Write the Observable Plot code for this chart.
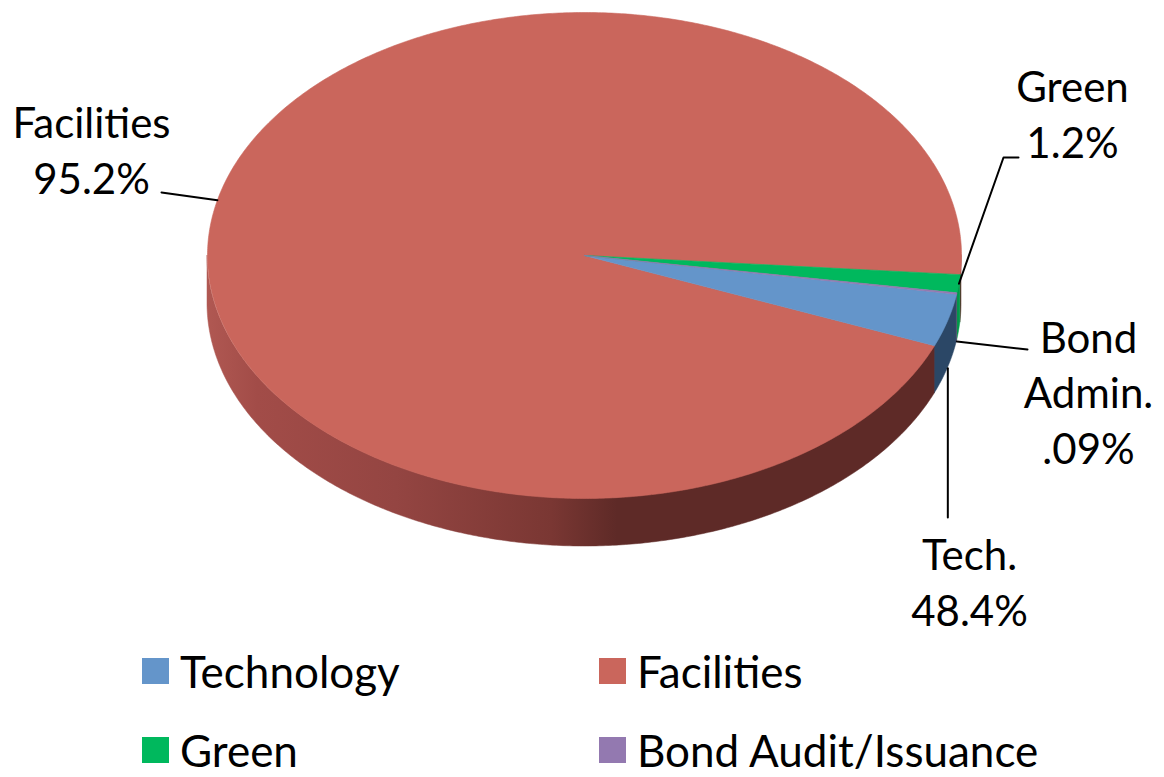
<!DOCTYPE html>
<html><head><meta charset="utf-8">
<script src="https://cdn.jsdelivr.net/npm/d3@7"></script>
<script src="https://cdn.jsdelivr.net/npm/@observablehq/plot@0.6"></script>
<style>
body{margin:0;background:#fff;font-family:Lato,"Open Sans",sans-serif;}
#wrap{position:relative;width:1164px;height:777px;overflow:hidden;background:#fff}
#legend{position:absolute;left:0;top:640px;width:1164px;height:137px}
.item{position:absolute;display:flex;align-items:center;height:52px;font-size:44px;color:#000;white-space:nowrap}
.sw{width:27px;height:26px;margin-right:11px;flex:none}
</style></head><body><div id="wrap"><div id="chart"></div><div id="legend"></div></div>
<script>
// ---- data ----
const categories = ["Technology", "Facilities", "Green", "Bond Audit/Issuance"];
const shares = [3.51, 95.2, 1.2, 0.09];           // percent of the pie
const labelLines = [["Tech.", "48.4%"], ["Facilities", "95.2%"], ["Green", "1.2%"], ["Bond", "Admin.", ".09%"]];

// ---- style / layout ----
const topColors = ["#6495CA", "#CA665C", "#00B85D", "#9379B0"];
const sideColors = ["#2B4766", "url(#facGrad)", "#009A4A", "#5E4A74"];
const W = 1164, H = 640;
const cx = 584, cy = 255, rx = 377, ry = 243, depth = 48;
const startDeg = 9.16; // first slice starts here, clockwise from 3 o'clock
const shadeStops = [[180, "#B05852"], [150, "#A24C48"], [120, "#944542"], [95, "#7A3733"], [85, "#5E2A27"], [0, "#5E2A27"]];

const rad = d => d * Math.PI / 180;
const pt = (t, dz = 0) => [cx + rx * Math.cos(rad(t)), cy + ry * Math.sin(rad(t)) + dz];

// slice angles
let acc = startDeg;
const slices = categories.map((name, i) => {
  const a0 = acc, a1 = acc + shares[i] * 3.6; acc = a1;
  return {name, i, a0, a1, mid: (a0 + a1) / 2};
});

// top wedges
const wedgeData = slices.map(s => {
  const pts = [[cx, cy]];
  const n = Math.max(2, Math.ceil((s.a1 - s.a0) / 0.5));
  for (let k = 0; k <= n; k++) pts.push(pt(s.a0 + (s.a1 - s.a0) * k / n));
  pts.push([cx, cy]);
  return pts.map(([x, y]) => ({x, y, name: s.name}));
});

// visible outer walls (front half: 0..180 deg)
const walls = [];
for (const s of slices) {
  for (const off of [-360, 0, 360]) {
    const lo = Math.max(0, s.a0 + off), hi = Math.min(180, s.a1 + off);
    if (hi <= lo) continue;
    const n = Math.max(2, Math.ceil((hi - lo) / 0.5));
    const pts = [];
    for (let k = 0; k <= n; k++) {
      const [x, y] = pt(lo + (hi - lo) * k / n);
      pts.push({x, y1: y, y2: y + depth});
    }
    walls.push({i: s.i, pts});
  }
}

// label anchors (last baseline, centre) and leader lines to the slice mid angle
const labelPos = [[969, 625], [91, 193], [1072, 157], [1088, 463]];
const labels = slices.map(s => ({x: labelPos[s.i][0], y: labelPos[s.i][1], text: labelLines[s.i].join("\n")}));
const leaders = [];
{
  const tEnd = pt(slices[0].mid, depth);
  leaders.push({id: 0, x: tEnd[0], y: 517}, {id: 0, x: tEnd[0], y: tEnd[1]});
  const fEnd = pt(slices[1].mid);
  leaders.push({id: 1, x: 161, y: 192}, {id: 1, x: fEnd[0], y: fEnd[1]});
  const gEnd = pt(slices[2].mid);
  leaders.push({id: 2, x: 1018, y: 157}, {id: 2, x: 1003, y: 157}, {id: 2, x: gEnd[0], y: gEnd[1]});
  const bEnd = pt(slices[3].mid, depth);
  leaders.push({id: 3, x: 1027, y: 349}, {id: 3, x: bEnd[0], y: bEnd[1]});
}

const drawOrder = [1, 0, 2, 3];
const chart = Plot.plot({
  width: W, height: H, margin: 0,
  x: {domain: [0, W], range: [0, W], axis: null},
  y: {domain: [0, H], range: [0, H], axis: null},
  style: {background: "#fff", overflow: "visible"},
  marks: [
    ...walls.map(w => Plot.area(w.pts, {x1: "x", y1: "y1", y2: "y2", fill: sideColors[w.i], stroke: sideColors[w.i], strokeWidth: 0.5})),
    ...drawOrder.map(i => Plot.line(wedgeData[i], {x: "x", y: "y", fill: topColors[i], stroke: topColors[i], strokeWidth: 0.6})),
    Plot.line(leaders, {x: "x", y: "y", z: "id", stroke: "#000", strokeWidth: 2}),
    Plot.text(labels, {x: "x", y: "y", text: "text", textAnchor: "middle", lineAnchor: "bottom",
      fontSize: 42, lineHeight: 1.32, fill: "#000", fontFamily: "Lato"})
  ]
});
// horizontal shading gradient for the Facilities wall
const svg = d3.select(chart);
const grad = svg.insert("defs", ":first-child").append("linearGradient")
  .attr("id", "facGrad").attr("gradientUnits", "userSpaceOnUse")
  .attr("x1", cx - rx).attr("x2", cx + rx).attr("y1", 0).attr("y2", 0);
shadeStops.slice().forEach(([t, c]) => {
  grad.append("stop").attr("offset", (pt(t)[0] - (cx - rx)) / (2 * rx)).attr("stop-color", c);
});
document.getElementById("chart").appendChild(chart);

// legend
const legendPos = [[142, 5], [599, 5], [142, 84], [599, 84]];
const legend = document.getElementById("legend");
categories.forEach((c, i) => {
  const d = document.createElement("div");
  d.className = "item";
  d.style.left = legendPos[i][0] + "px";
  d.style.top = legendPos[i][1] + "px";
  d.innerHTML = `<span class="sw" style="background:${topColors[i]}"></span><span>${c}</span>`;
  legend.appendChild(d);
});
</script></body></html>
